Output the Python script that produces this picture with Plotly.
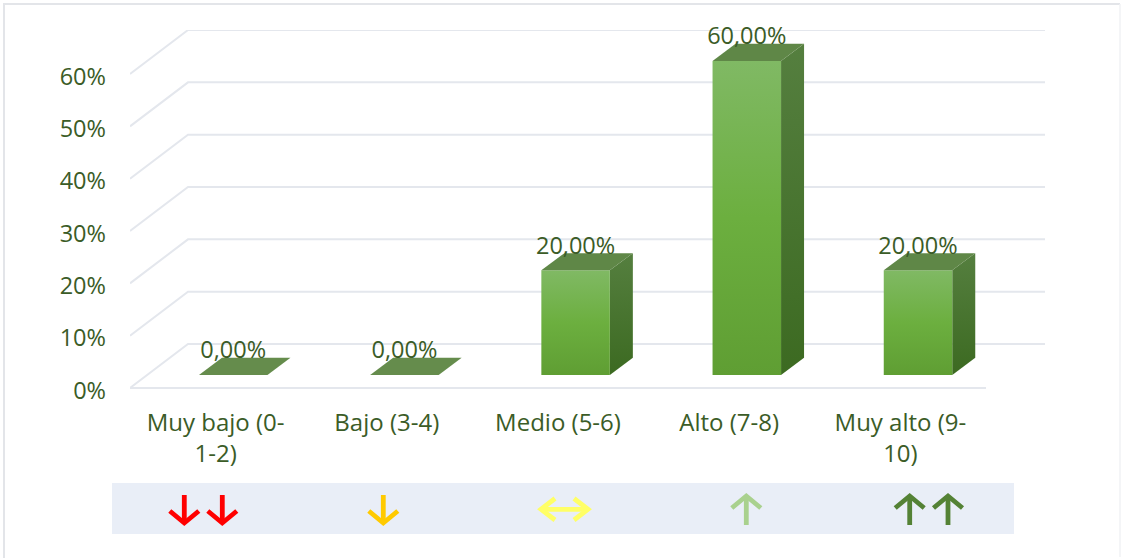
import plotly.graph_objects as go

categories = ["Muy bajo (0-<br>1-2)", "Bajo (3-4)", "Medio (5-6)", "Alto (7-8)", "Muy alto (9-<br>10)"]
values = [0, 0, 20, 60, 20]
value_labels = ["0,00%", "0,00%", "20,00%", "60,00%", "20,00%"]
y_ticks = [0, 10, 20, 30, 40, 50, 60]
y_tick_labels = ["0%", "10%", "20%", "30%", "40%", "50%", "60%"]

W, H = 1122, 558
L, R, T, B = 130, 1045, 30, 398          # plot area in pixels
ZERO = 388                               # pixel row of 0 on the front wall
PX_CAT = 171.2
PX_PCT = 5.233
X_RANGE = [-0.5, -0.5 + (R - L) / PX_CAT]
Y_RANGE = [-(B - ZERO) / PX_PCT, (ZERO - T) / PX_PCT]

TEXT = "#3B5C27"
FONT = "Open Sans"
GRID = "#E4E7ED"

# depth of the pseudo 3D box, in axis units
WALL_DX, WALL_DY = 58 / PX_CAT, 44 / PX_PCT
BAR_DX, BAR_DY = 23 / PX_CAT, 17.2 / PX_PCT
BAR_W = 68.5 / PX_CAT
BAR_SHIFT = 17.6 / PX_CAT
BAR_BASE = 13 / PX_PCT
TICK_LABEL_NUDGE = 2.5 / PX_PCT

fig = go.Figure()


def line(xs, ys):
    fig.add_trace(go.Scatter(x=xs, y=ys, mode="lines", line=dict(color=GRID, width=2),
                             hoverinfo="skip", showlegend=False))


def poly(xs, ys, color=None, stops=None):
    kw = dict(fillcolor=color) if color else dict(
        fillgradient=dict(type="vertical", colorscale=stops))
    fig.add_trace(go.Scatter(x=xs + xs[:1], y=ys + ys[:1], mode="lines", fill="toself",
                             line=dict(width=0), hoverinfo="skip", showlegend=False, **kw))


# walls and floor
for t in y_ticks:
    line([X_RANGE[0], X_RANGE[0] + WALL_DX, X_RANGE[1]], [t, t + WALL_DY, t + WALL_DY])
line([X_RANGE[0], 4.5], [0, 0])

FRONT = [[0, "#5F9E33"], [0.5, "#6CAF3F"], [1, "#80B964"]]
SIDE = [[0, "#3C6A21"], [1, "#557F3F"]]

# bars
for i, v in enumerate(values):
    x0 = i + BAR_SHIFT - BAR_W / 2
    x1 = x0 + BAR_W
    y0 = BAR_BASE
    y1 = BAR_BASE + v
    if v > 0:
        poly([x1, x1 + BAR_DX, x1 + BAR_DX, x1], [y0, y0 + BAR_DY, y1 + BAR_DY, y1], stops=SIDE)
        poly([x0, x1, x1, x0], [y0, y0, y1, y1], stops=FRONT)
    poly([x0, x1, x1 + BAR_DX, x0 + BAR_DX], [y1, y1, y1 + BAR_DY, y1 + BAR_DY],
         color="#658C4C" if v == 0 else "#5F8747")

# value labels
fig.add_trace(go.Scatter(
    x=[i + BAR_SHIFT for i in range(len(values))],
    y=[BAR_BASE + v + BAR_DY + 1.0 for v in values],
    mode="text", text=value_labels, textposition="middle center",
    textfont=dict(family=FONT, size=23.5, color=TEXT),
    cliponaxis=False, hoverinfo="skip", showlegend=False))


def px(x):
    return (x - L) / (R - L)


def py(y):
    return (B - y) / (B - T)


def seg(points, color, width=4.8):
    path = "M " + " L ".join(f"{px(a):.5f},{py(b):.5f}" for a, b in points)
    return dict(type="path", path=path, xref="paper", yref="paper",
                line=dict(color=color, width=width), layer="above")


shapes = [
    dict(type="rect", xref="paper", yref="paper", x0=px(112), x1=px(1014), y0=py(534), y1=py(483),
         fillcolor="#E9EEF7", line=dict(width=0), layer="below"),
    seg([(4, 558), (4, 4), (1120, 4)], "#E3E5E9", 2),
    seg([(1120, 4), (1120, 557)], "#F1F2F4", 1.5),
]


def down(x, color):
    shapes.append(seg([(x, 495), (x, 523)], color))
    shapes.append(seg([(x - 14.5, 511), (x, 523), (x + 14.5, 511)], color))


def up(x, color):
    shapes.append(seg([(x, 525), (x, 496)], color))
    shapes.append(seg([(x - 14.5, 508), (x, 496), (x + 14.5, 508)], color))


down(184.3, "#FF0000")
down(222.3, "#FF0000")
down(383.3, "#FFCA00")
shapes.append(seg([(541, 509.3), (588, 509.3)], "#FFFF66"))
shapes.append(seg([(555, 498.5), (541, 509.3), (555, 520)], "#FFFF66"))
shapes.append(seg([(574, 498.5), (588, 509.3), (574, 520)], "#FFFF66"))
up(746.3, "#A9D18E")
up(909.7, "#548235")
up(948, "#548235")

fig.update_layout(
    width=W, height=H, autosize=False,
    margin=dict(l=L, r=W - R, t=T, b=H - B, pad=0),
    paper_bgcolor="white", plot_bgcolor="rgba(0,0,0,0)",
    showlegend=False, shapes=shapes,
    xaxis=dict(range=X_RANGE, tickmode="array", tickvals=list(range(len(categories))),
               ticktext=categories, showgrid=False, zeroline=False, showline=False,
               ticks="", tickangle=0, ticklabelstandoff=8,
               tickfont=dict(family=FONT, size=24, color=TEXT)),
    yaxis=dict(range=Y_RANGE, tickmode="array", tickvals=[t - TICK_LABEL_NUDGE for t in y_ticks],
               ticktext=y_tick_labels, showgrid=False, zeroline=False, showline=False, ticks="",
               ticklabelstandoff=23,
               tickfont=dict(family=FONT, size=23.5, color=TEXT)),
)

fig.write_html("out.html", post_script="document.body.style.margin='0';",
               config={"displayModeBar": False})
